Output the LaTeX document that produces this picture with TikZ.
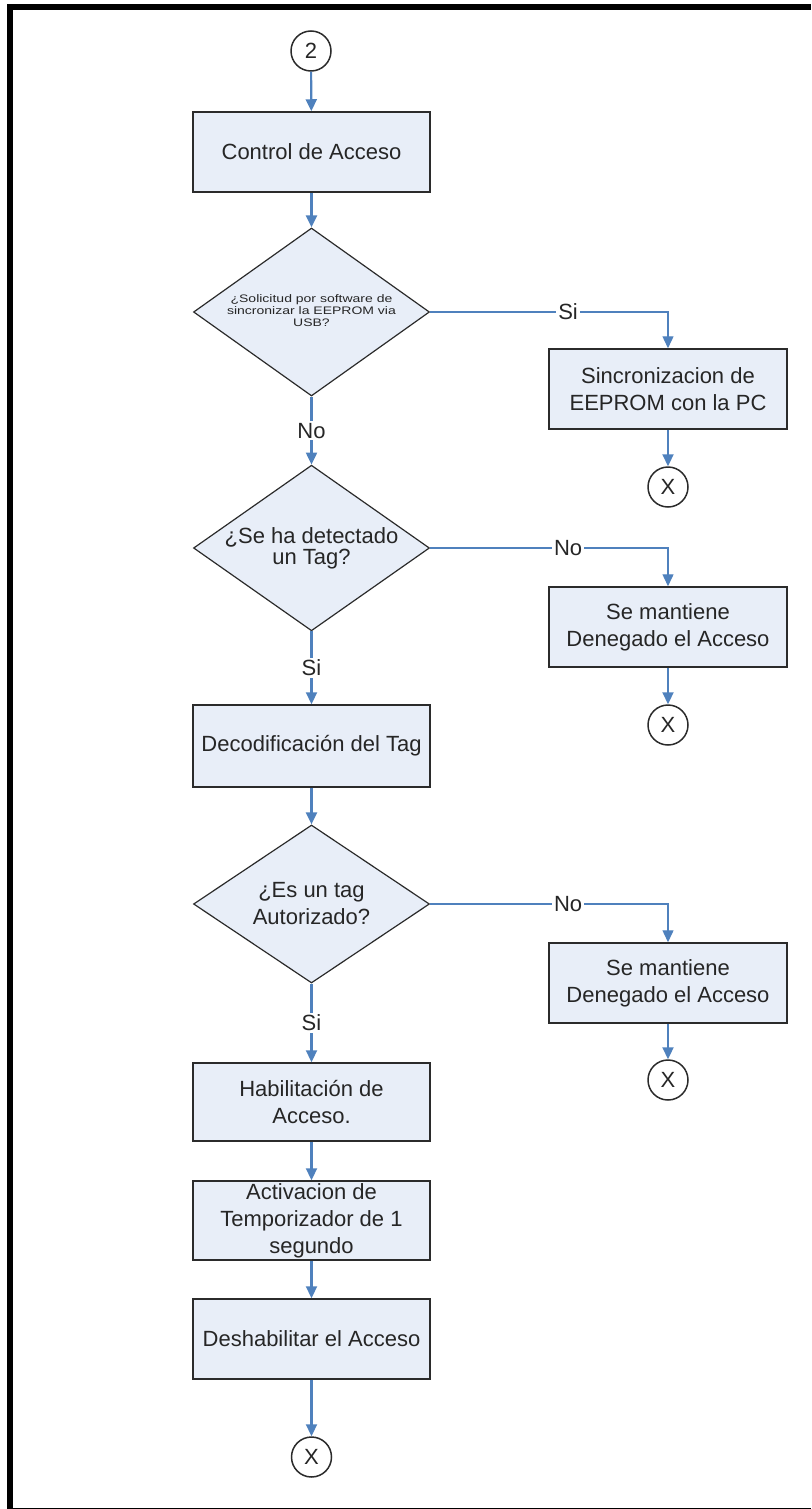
\documentclass[tikz,border=0pt]{standalone}
\usepackage{fontspec}
\usepackage{graphicx}
\setmainfont{Liberation Sans}
\usetikzlibrary{shapes.geometric,arrows.meta}

\definecolor{flowblue}{HTML}{4F81BD}
\definecolor{boxfill}{HTML}{E8EEF8}
\definecolor{edgegray}{HTML}{2B2B2B}
\definecolor{ink}{HTML}{262626}

\tikzset{
  procbox/.style={draw=edgegray, line width=0.75pt, fill=boxfill,
    minimum width=118.5pt, minimum height=40pt, inner sep=0pt,
    align=center, text=ink, font=\fontsize{11}{13.5}\selectfont},
  decision/.style={diamond, aspect=1.4, draw=edgegray, line width=0.6pt, fill=boxfill,
    minimum width=118pt, minimum height=83pt, inner sep=0pt,
    align=center, text=ink, font=\fontsize{11}{9.5}\selectfont},
  connector/.style={circle, draw=edgegray, line width=0.75pt, fill=white,
    minimum size=20pt, inner sep=0pt, text=ink,
    font=\fontsize{11}{13}\selectfont},
  flow/.style={draw=flowblue, line width=1.1pt,
    -{Triangle[width=5.5pt,length=6pt]}},
  branch/.style={flow, line width=0.7pt},
  answer/.style={fill=white, inner sep=1pt, text=ink,
    font=\fontsize{11}{13}\selectfont},
}

\begin{document}
\begin{tikzpicture}[x=0.5pt,y=-0.5pt]
  \useasboundingbox (0,0) rectangle (811,1509);

  % page frame: heavy left and top rules, thin bottom rule
  \fill[black] (7,4) rectangle (13,1509);
  \fill[black] (7,4) rectangle (811,10);
  \fill[black] (13,1507.5) rectangle (811,1509);

  % main column
  \node[connector] (start) at (311,51) {2};
  \node[procbox] (ctrl) at (311.5,152) {Control de Acceso};
  \node[decision, minimum height=84pt, font=\fontsize{7}{8}\selectfont] (usb) at (311.5,312)
    {\scalebox{1}[0.78]{\begin{tabular}{@{}c@{}}¿Solicitud por software de\\sincronizar la EEPROM via\\USB?\end{tabular}}};
  \node[decision, minimum height=78pt] (tag) at (311.5,548) {¿Se ha detectado\\un Tag?};
  \node[procbox, minimum height=41pt] (decod) at (311.5,746) {Decodificación del Tag};
  \node[decision, minimum height=79pt, font=\fontsize{11}{13.5}\selectfont] (auth) at (311.5,904) {¿Es un tag\\Autorizado?};
  \node[procbox, minimum height=39pt] (enable) at (311.5,1102) {Habilitación de\\Acceso.};
  \node[procbox, minimum height=39.5pt] (timer) at (311.5,1220.5) {Activacion de\\Temporizador de 1\\segundo};
  \node[procbox] (disable) at (311.5,1339) {Deshabilitar el Acceso};
  \node[connector] (endA) at (311.5,1457) {X};

  % right column
  \node[procbox, minimum width=119pt] (sync) at (668,389) {Sincronizacion de\\EEPROM con la PC};
  \node[connector] (endB) at (668,487) {X};
  \node[procbox, minimum width=119pt] (denyA) at (668,627) {Se mantiene\\Denegado el Acceso};
  \node[connector] (endC) at (668,725) {X};
  \node[procbox, minimum width=119pt] (denyB) at (668,983) {Se mantiene\\Denegado el Acceso};
  \node[connector] (endD) at (668,1080) {X};

  % connectors
  \draw[flow] (start) -- (ctrl);
  \draw[flow] (ctrl) -- (usb);
  \draw[branch] (usb.east) -| node[answer, pos=0.29] {Si} (sync.north);
  \draw[flow] (sync) -- (endB);
  \draw[flow] (usb.south) -- node[answer] {No} (tag.north);
  \draw[branch] (tag.east) -| node[answer, pos=0.29] {No} (denyA.north);
  \draw[flow] (denyA) -- (endC);
  \draw[flow] (tag.south) -- node[answer] {Si} (decod.north);
  \draw[flow] (decod) -- (auth);
  \draw[branch] (auth.east) -| node[answer, pos=0.29] {No} (denyB.north);
  \draw[flow] (denyB) -- (endD);
  \draw[flow] (auth.south) -- node[answer] {Si} (enable.north);
  \draw[flow] (enable) -- (timer);
  \draw[flow] (timer) -- (disable);
  \draw[flow] (disable) -- (endA);
\end{tikzpicture}
\end{document}
